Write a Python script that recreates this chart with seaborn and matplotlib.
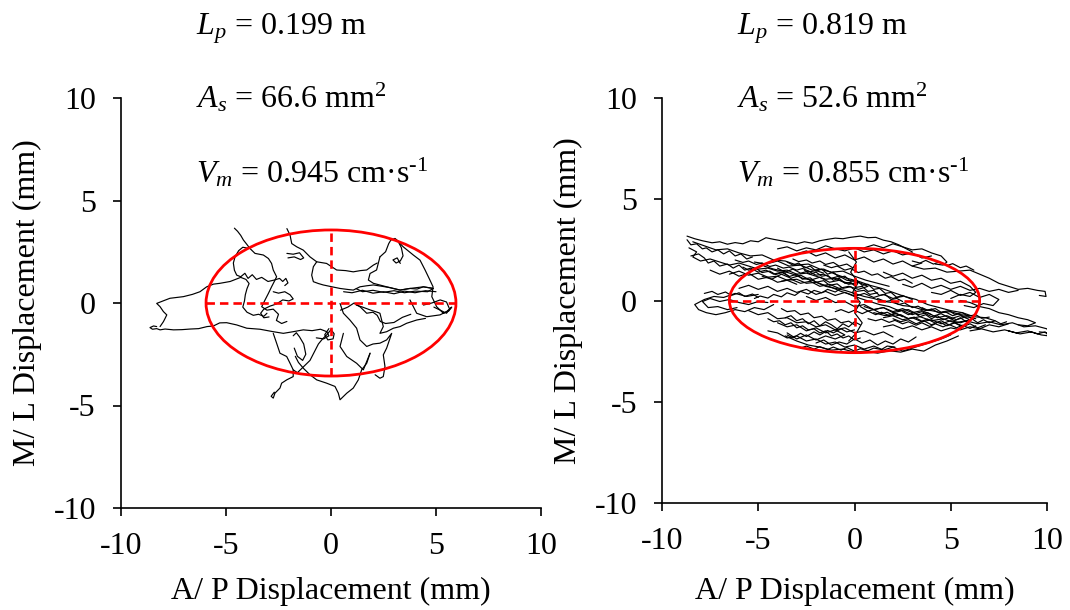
import numpy as np
import pandas as pd
import matplotlib
matplotlib.use("Agg")
import matplotlib.pyplot as plt
from matplotlib.patches import Ellipse
import seaborn as sns

# ---- Sway summary values ----
path_length = [0.199, 0.819]          # m
sway_area = [66.6, 52.6]              # mm^2 (95 % ellipse)
mean_velocity = [0.945, 0.855]        # cm/s
ellipse_ap_half = [5.95, 6.5]         # mm, semi-axis along A/P

# ---- COP trajectory, condition 1 (mm), one list per traced stroke ----
left_ap = [
    [-8.3, -8.45, -8.62, -8.5, -8.3, -8.14, -7.9, -7.5, -7.1, -6.7, -6.3, -5.9, -5.6, -5.3, -4.97, -4.49, -4.01,
     -3.38, -2.75, -2.27, -1.8, -1.32, -0.9, -0.5, -0.2, -0.1, -0.35, -0.7],
    [-8.14, -7.98, -7.9, -7.82, -7.98, -8.14, -8.3, -8.0, -7.67, -7.03, -6.6, -6.24, -5.92, -5.6, -5.29, -4.8,
     -4.3, -4.05, -3.9, -4.0, -4.08, -4.12, -4.2, -4.0, -3.7, -3.45, -3.2, -3.05],
    [-4.6, -4.45, -4.3, -4.17, -4.0, -3.86, -3.62, -3.22, -2.98, -2.83, -2.75, -2.59, -2.7, -2.83, -2.98, -3.14,
     -3.3, -3.05, -2.75, -2.5, -2.6, -2.35, -2.1],
    [-3.9, -4.2, -4.4, -4.57, -4.65, -4.6, -4.49, -4.3, -4.1, -3.95, -3.75, -3.55, -3.3, -3.0, -2.7, -2.45, -2.3,
     -2.15, -2.05, -2.2],
    [-2.75, -2.5, -2.2, -1.95, -1.8, -2.0, -2.3, -2.6, -2.9, -3.2, -3.35, -3.2, -2.95],
    [-2.1, -1.95, -1.87, -1.63, -1.32, -1.0, -0.68, -0.21, 0.27, 0.7, 1.06, 1.4, 1.7, 2.02, 2.2],
    [-2.1, -1.8, -1.5, -1.3, -1.45, -1.75, -2.05],
    [-0.68, -0.84, -0.92, -0.84, -0.6, -0.37, 0.0, 0.43, 0.8, 1.06, 1.38, 1.7, 2.02, 2.4, 2.8, 3.29, 3.76, 4.1,
     4.4, 4.87],
    [2.33, 2.6, 2.75, 2.85, 3.05, 3.2, 3.35, 3.43, 3.3, 3.1, 2.95, 3.15, 3.3],
    [3.1, 3.44, 3.92, 4.24, 4.48, 4.71, 4.86, 4.8, 5.03, 5.35, 5.6, 5.75, 5.5, 5.19, 4.56, 4.08, 3.76],
    [2.33, 2.17, 1.86, 1.78, 2.02, 2.65, 3.29, 3.76, 4.4, 4.87, 4.6, 4.0, 3.5, 3.0, 2.5, 2.0, 1.5, 1.2],
    [1.2, 1.5, 1.9, 2.2, 2.33, 2.49, 2.33, 2.65, 2.97, 3.29, 3.6, 4.08, 4.5],
    [0.43, 0.59, 0.9, 1.22, 1.38, 1.7, 2.0, 2.33, 2.65, 2.89, 2.65, 2.49, 2.57, 2.49, 2.33, 2.1],
    [1.86, 1.7, 1.46, 1.3, 1.06, 0.75, 0.43, 0.35, 0.19, -0.21, -0.68, -1.0, -1.3, -1.55, -1.7],
    [0.59, 0.43, 0.75, 1.22, 1.54, 1.86],
    [-2.75, -2.59, -2.43, -2.11, -1.95, -1.8, -1.8, -2.11, -2.35, -2.43, -2.67, -2.75, -2.85, -2.7],
    [-1.8, -1.6, -1.3, -1.0, -0.8, -0.6, -0.4, -0.2, 0.0, 0.15, 0.1, -0.15, -0.3, -0.1],
    [-1.8, -1.65, -1.5, -1.3, -1.2, -1.35, -1.6, -1.75],
    [0.45, 0.8, 1.1, 1.4, 1.7, 2.0, 2.2, 2.35, 2.6, 3.0, 3.4, 3.8],
    [4.4, 4.8, 5.2, 5.5, 5.65, 5.5, 5.2, 4.9],
    [0.6, 1.0, 1.5, 2.0, 2.5, 3.0, 3.5, 4.0, 4.5, 5.0],
]
left_ml = [
    [-1.15, -1.12, -1.2, -1.28, -1.25, -1.31, -1.27, -1.31, -1.3, -1.27, -1.25, -1.15, -1.12, -0.97, -0.96, -1.07,
     -1.23, -1.28, -1.4, -1.48, -1.4, -1.31, -1.35, -1.28, -1.4, -1.6, -1.75, -1.7],
    [-1.15, -0.91, -0.75, -0.58, -0.42, -0.18, -0.02, 0.1, 0.23, 0.31, 0.42, 0.55, 0.79, 0.92, 0.96, 1.05, 1.25,
     1.15, 0.95, 0.7, 0.4, 0.1, -0.2, -0.45, -0.6, -0.55, -0.65, -0.5],
    [3.65, 3.5, 3.3, 3.07, 2.85, 2.66, 2.42, 2.34, 2.17, 1.93, 1.61, 1.28, 1.05, 0.79, 0.47, 0.15, -0.18, -0.35,
     -0.3, -0.55, -0.85, -1.0, -0.9],
    [2.66, 2.72, 2.55, 2.25, 1.95, 1.6, 1.36, 1.28, 1.45, 1.2, 1.38, 1.15, 1.25, 1.05, 1.12, 1.2, 1.05, 1.2, 0.98,
     0.85],
    [0.55, 0.48, 0.55, 0.4, 0.2, 0.1, 0.15, -0.05, -0.15, -0.3, -0.5, -0.72, -0.68],
    [3.63, 3.31, 2.9, 2.74, 2.58, 2.25, 2.01, 1.93, 1.61, 1.58, 1.52, 1.58, 1.61, 1.85, 1.95],
    [2.42, 2.38, 2.45, 2.2, 2.12, 2.25, 2.2],
    [2.01, 1.77, 1.36, 1.04, 0.95, 0.88, 0.8, 0.71, 0.66, 0.63, 0.79, 0.84, 0.88, 0.82, 0.75, 0.63, 0.71, 0.68,
     0.79, 0.71],
    [2.25, 2.5, 2.9, 3.07, 3.15, 3.0, 2.7, 2.3, 2.05, 1.95, 2.1, 2.2, 1.93],
    [3.1, 2.74, 2.34, 2.09, 1.61, 1.12, 0.79, 0.31, -0.18, -0.5, -0.4, -0.2, -0.42, -0.58, -0.67, -0.5, 0.15],
    [2.25, 1.61, 1.44, 1.12, 0.96, 0.79, 0.63, 0.71, 0.79, 0.71, 0.55, 0.58, 0.5, 0.6, 0.52, 0.62, 0.55, 0.7],
    [-0.1, -0.2, -0.35, -0.45, -0.5, -1.15, -1.48, -1.4, -1.23, -1.15, -0.99, -0.83, -0.75],
    [-0.02, -0.5, -0.83, -1.23, -1.8, -2.12, -2.0, -1.96, -1.8, -1.48, -2.2, -2.53, -3.1, -3.59, -3.67, -3.5],
    [-2.45, -2.94, -3.26, -3.75, -4.15, -4.4, -4.72, -4.4, -4.07, -3.91, -3.75, -3.5, -3.2, -2.9, -2.6],
    [-1.48, -2.12, -2.61, -2.94, -3.26, -2.45],
    [-1.48, -1.96, -2.45, -2.61, -2.94, -3.26, -3.59, -3.75, -3.91, -4.15, -4.4, -4.64, -4.55, -4.35],
    [-3.26, -3.4, -3.1, -2.8, -2.4, -2.0, -1.75, -1.55, -1.3, -1.5, -1.75, -1.8, -1.55, -1.25],
    [-1.6, -1.45, -1.65, -2.0, -2.5, -2.8, -2.6, -2.2],
    [-0.35, -0.2, 0.0, -0.2, -0.5, -0.45, -0.6, -0.9, -1.0, -0.95, -0.7, -0.55],
    [-0.1, 0.0, 0.15, 0.05, -0.3, -0.5, -0.35, -0.2],
    [0.55, 0.5, 0.62, 0.48, 0.55, 0.45, 0.58, 0.5, 0.6, 0.55],
]

# ---- COP trajectory, condition 2 (mm) ----
right_ap = [
    [-8.7, -8.3, -7.9, -7.4, -7.0, -6.6, -6.2, -5.8, -5.4, -5.0, -4.6, -4.2, -3.8, -3.4, -3.0, -2.6, -2.2, -1.8,
     -1.4, -1.0, -0.6, -0.2, 0.3, 0.7, 1.1, 1.5, 1.9, 2.3, 2.7, 3.0],
    [-8.6, -8.2, -8.4, -8.0, -7.5, -7.0, -6.5, -6.0, -5.5, -5.0, -4.5, -4.0, -3.5, -3.0, -2.5, -2.0, -1.5, -1.0,
     -0.5, 0.0],
    [-8.4, -7.8, -7.2, -6.6, -6.0, -5.4, -4.8, -4.2, -3.6, -3.0, -2.4, -1.8, -1.2, -0.6, 0.0, 0.6, 1.2, 1.8],
    [-6.5, -6.0, -5.5, -5.0, -4.5, -4.0, -3.5, -3.0, -2.5, -2.0, -1.5, -1.0, -0.5, 0.0, 0.5, 1.0, 1.5, 2.0, 2.5,
     3.0, 3.5, 4.0, 4.5, 5.0, 5.5, 6.0],
    [6.3, 5.8, 5.3, 4.8, 4.3, 3.8, 3.3, 2.8, 2.3, 1.8, 1.3, 0.8, 0.3, -0.2, -0.7, -1.2, -1.7, -2.2, -2.7, -3.2,
     -3.7, -4.2, -4.7],
    [-5.2, -4.6, -4.0, -3.4, -2.8, -2.2, -1.6, -1.0, -0.4, 0.2, 0.8, 1.4, 2.0, 2.6, 3.2, 3.8, 4.4, 5.0, 5.6, 6.2,
     6.8, 7.3],
    [1.0, 1.6, 2.2, 2.8, 3.4, 4.0, 4.6, 5.2, 5.8, 6.4, 7.0, 7.6, 8.2, 8.8, 9.4, 10.0, 10.1, 9.6],
    [3.0, 3.6, 4.2, 4.8, 5.4, 6.0, 6.5, 7.0, 7.5, 8.0, 8.5, 9.0, 9.5, 9.9, 9.95, 9.6],
    [0.5, 1.0, 1.5, 2.0, 2.5, 3.0, 3.5, 4.0, 4.5, 4.8, 4.6, 4.2],
    [-5.5, -5.0, -4.5, -4.0, -3.5, -3.0, -2.5, -2.0, -1.5, -1.0, -0.5, 0.0, 0.5, 1.0, 1.5, 2.0],
    [-4.5, -4.0, -3.5, -3.0, -2.5, -2.0, -1.5, -1.0, -0.5, 0.0, 0.5, 1.0, 1.5, 2.0, 2.5, 3.0, 3.5, 4.0, 4.5, 5.0],
    [-3.6, -3.0, -2.4, -1.8, -1.2, -0.6, 0.0, 0.6, 1.2, 1.8, 2.4, 3.0, 3.6, 4.2, 4.8, 5.4],
    [-5.0, -5.6, -6.2, -6.8, -7.3, -7.8, -8.3, -8.1, -7.7, -7.2, -6.7, -6.2, -5.7, -5.2, -4.7, -4.2],
    [-4.8, -4.3, -3.8, -3.3, -2.8, -2.3, -1.8, -1.3, -0.8, -0.3, 0.2, 0.7, 0.2, -0.3, -0.8, -1.3, -1.8, -2.3,
     -2.8, -3.3, -3.8],
    [0.5, 1.0, 1.5, 2.0, 2.5, 3.0, 3.5, 4.0, 4.5, 5.0, 5.5, 6.0, 5.5, 5.0, 4.5, 4.0, 3.5, 3.0, 2.5, 2.0, 1.5],
    [1.5, 2.0, 2.5, 3.0, 3.5, 4.0, 4.5, 5.0, 5.5, 6.0, 6.5, 7.0, 7.5, 8.0],
    [-0.3, 0.1, -0.2, 0.2, -0.1, 0.3, 0.0, 0.4, 0.1, -0.3],
    [-2.5, -2.0, -1.5, -1.0, -0.5, 0.0, 0.5, 1.0, 1.5, 2.0, 2.5, 3.0, 3.5, 4.0],
    [-6.0, -5.5, -5.0, -4.5, -4.0, -3.5, -3.0, -2.5, -2.0, -1.5, -1.0, -0.5, 0.0, 0.5, 1.0, 1.5, 2.0, 2.5, 3.0],
    [1.5, 2.0, 2.5, 3.0, 3.5, 4.0, 4.5, 5.0, 5.5, 6.0, 6.3, 6.0, 5.5, 5.0],
    [-4.0, -3.5, -3.0, -2.5, -2.0, -1.5, -1.0, -0.5, -1.0, -1.5, -2.0, -2.5, -3.0, -3.5],
    [-7.5, -7.0, -6.5, -6.0, -5.5, -5.0, -4.5, -4.0, -3.5, -3.0],
    [-3.0, -2.5, -2.0, -1.5, -1.0, -0.5, 0.0, 0.5, 1.0, 1.5, 2.0, 2.5, 3.0, 3.5],
    [4.0, 4.5, 5.0, 5.5, 6.0, 6.5, 7.0, 7.5, 7.2, 6.7, 6.2, 5.7],
    [-4.0, -3.6, -3.2, -2.8, -2.4, -2.0, -1.6, -1.2, -0.8, -0.4, 0.0],
    [2.0, 2.4, 2.8, 3.2, 3.6, 4.0, 4.4, 4.8, 5.2, 5.6, 6.0, 6.4, 6.8],
    [-8.7, -8.5, -8.2, -7.9, -7.7, -7.4, -7.1, -6.8, -6.5, -6.2, -5.9, -5.6, -5.3],
    [-8.5, -8.1, -7.8, -7.6, -7.3, -7.0, -6.6, -6.3, -6.0, -5.7, -5.4, -5.0, -4.6, -4.2, -3.8, -3.4],
    [-3.5, -3.2, -2.9, -2.6, -2.3, -2.0, -1.7, -1.4, -1.1, -0.8, -0.5, -0.2, 0.1, 0.4, 0.7, 1.0, 1.3, 1.6, 1.9,
     2.2, 2.5],
    [2.5, 2.2, 1.9, 1.6, 1.3, 1.0, 0.7, 0.4, 0.1, -0.2, -0.5, -0.8, -1.1, -1.4, -1.7, -2.0, -2.3, -2.6],
    [2.5, 2.8, 3.1, 3.4, 3.7, 4.0, 4.3, 4.6, 4.9, 5.2, 5.5, 5.8, 6.1, 6.4, 6.7, 7.0, 7.3, 7.6, 7.9],
    [-4.5, -4.2, -3.9, -3.6, -3.3, -3.0, -2.7, -2.4, -2.1, -1.8, -1.5, -1.2, -0.9, -0.6, -0.3, 0.0, 0.3],
    [0.3, 0.0, -0.3, -0.6, -0.9, -1.2, -1.5, -1.8, -2.1, -2.4, -2.7, -3.0, -3.3, -3.6],
    [-2.0, -1.6, -1.2, -0.8, -0.4, 0.0, 0.4, 0.8, 1.2, 1.6, 2.0, 2.4, 2.8, 3.2],
    [-4.5, -5.0, -5.5, -6.0, -6.5, -7.0, -7.5, -7.9, -7.6, -7.1, -6.6, -6.1],
    [2.5, 3.0, 3.5, 4.0, 4.5, 5.0, 5.5, 6.0, 6.5, 7.0, 7.5, 8.0, 8.5],
    [-4.0, -3.5, -3.0, -2.5, -2.0, -1.5, -1.0, -0.5, 0.0, 0.5, 1.0, 1.5, 2.0, 2.5, 3.0, 3.5, 4.0],
    [6.0, 6.6, 7.2, 7.8, 8.4, 9.0, 9.5, 9.9, 10.1, 9.7, 9.2, 8.6, 8.0],
    [5.5, 6.0, 6.5, 7.0, 7.5, 8.0, 8.5, 9.0, 9.4, 9.0, 8.5],
    [-5.8, -5.5, -5.1, -4.8, -4.4, -4.1, -3.7, -3.4, -3.0, -2.7, -2.3, -2.0, -1.6, -1.3, -0.9, -0.6, -0.2, 0.1,
     0.5, 0.8, 1.2],
    [1.2, 1.6, 1.9, 2.3, 2.6, 3.0, 3.3, 3.7, 4.0, 4.4, 4.7, 5.1, 5.4, 5.8],
    [5.6, 5.2, 4.9, 4.5, 4.2, 3.8, 3.5, 3.1, 2.8, 2.4, 2.1, 1.7, 1.4, 1.0, 0.7, 0.3],
    [-3.8, -3.5, -3.1, -2.8, -2.4, -2.1, -1.7, -1.4, -1.0, -0.7, -0.3, 0.0],
    [0.0, -0.4, -0.7, -1.1, -1.4, -1.8, -2.1, -2.5, -2.8, -3.2, -3.5],
    [-2.8, -2.5, -2.1, -1.8, -1.4, -1.1, -0.7, -0.4, 0.0, 0.3, 0.7, 1.0, 1.4, 1.7, 2.1],
    [-6.2, -5.8, -5.5, -5.1, -4.8, -4.4, -4.1, -3.7, -3.4, -3.0, -2.7, -2.3, -2.0, -1.6],
    [-1.6, -1.2, -0.9, -0.5, -0.2, 0.2, 0.5, 0.9, 1.2, 1.6, 1.9, 2.3, 2.6, 3.0],
    [3.0, 3.4, 3.7, 4.1, 4.4, 4.8, 5.1, 5.5, 5.8, 6.2],
    [-5.2, -4.9, -4.5, -4.2, -3.8, -3.5, -3.1, -2.8, -2.4, -2.1, -1.7, -1.4, -1.0, -0.7],
    [0.7, 1.1, 1.4, 1.8, 2.1, 2.5, 2.8, 3.2, 3.5, 3.9, 4.2, 4.6, 4.9, 5.3, 5.6, 6.0, 6.3],
    [3.5, 3.8, 4.2, 4.5, 4.9, 5.2, 5.6, 5.9, 6.3, 6.6, 7.0],
    [-7.8, -7.4, -7.1, -6.7, -6.4, -6.0, -5.7, -5.3, -5.0],
    [-1.0, -0.7, -0.3, 0.0, 0.4, 0.7, 1.1, 1.4, 1.8, 2.1, 2.5],
    [-3.2, -2.9, -2.5, -2.2, -1.8, -1.5, -1.1, -0.8, -0.4, -0.1],
]
right_ml = [
    [3.18, 3.05, 2.95, 2.85, 2.9, 2.78, 2.86, 2.8, 2.95, 2.9, 3.1, 3.02, 2.95, 2.88, 2.8, 2.9, 2.83, 2.95, 3.02,
     3.08, 3.05, 3.12, 3.18, 3.1, 3.12, 2.98, 2.9, 2.75, 2.55, 2.4],
    [2.6, 2.4, 2.15, 1.95, 2.05, 1.9, 1.75, 1.85, 1.7, 1.55, 1.6, 1.45, 1.5, 1.3, 1.35, 1.2, 1.05, 1.1, 0.9, 0.8],
    [2.9, 2.7, 2.5, 2.55, 2.35, 2.2, 2.25, 2.0, 1.95, 1.75, 1.8, 1.55, 1.4, 1.45, 1.2, 1.0, 0.85, 0.7],
    [1.3, 1.45, 1.25, 1.35, 1.15, 1.2, 1.0, 1.05, 0.85, 0.9, 0.7, 0.6, 0.5, 0.35, 0.2, 0.1, -0.05, -0.1, -0.25,
     -0.3, -0.45, -0.5, -0.6, -0.55, -0.7, -0.75],
    [-0.9, -0.8, -0.95, -0.75, -0.85, -0.6, -0.7, -0.45, -0.5, -0.3, -0.2, -0.05, 0.1, 0.3, 0.45, 0.65, 0.8, 1.0,
     1.1, 1.3, 1.45, 1.55, 1.7],
    [1.9, 1.8, 1.95, 1.7, 1.75, 1.5, 1.55, 1.3, 1.1, 0.95, 0.75, 0.6, 0.4, 0.2, 0.05, -0.2, -0.35, -0.5, -0.6,
     -0.8, -0.85, -1.0],
    [-0.6, -0.75, -0.65, -0.9, -0.8, -1.0, -0.9, -1.1, -1.0, -1.15, -1.05, -1.2, -1.1, -1.3, -1.25, -1.4, -1.6,
     -1.55],
    [1.7, 1.55, 1.6, 1.4, 1.45, 1.5, 1.3, 1.1, 0.85, 0.7, 0.55, 0.6, 0.5, 0.45, 0.2, 0.25],
    [2.6, 2.75, 2.6, 2.8, 2.65, 2.5, 2.55, 2.35, 2.2, 1.9, 1.75, 1.8],
    [-0.5, -0.7, -0.6, -0.9, -0.85, -1.1, -1.05, -1.3, -1.2, -1.45, -1.35, -1.6, -1.5, -1.7, -1.55, -1.8],
    [-1.5, -1.6, -1.85, -1.75, -2.0, -1.9, -2.15, -2.05, -2.3, -2.2, -2.4, -2.25, -2.45, -2.3, -2.5, -2.35, -2.2,
     -2.05, -1.9, -1.7],
    [-1.75, -2.0, -2.2, -2.3, -2.45, -2.4, -2.55, -2.5, -2.6, -2.48, -2.55, -2.4, -2.5, -2.2, -2.0, -1.75],
    [0.3, 0.2, 0.35, 0.15, 0.2, 0.05, -0.2, -0.45, -0.6, -0.7, -0.6, -0.45, -0.55, -0.35, -0.45, -0.2],
    [1.2, 1.05, 1.3, 1.1, 1.25, 1.0, 1.15, 0.9, 1.0, 0.8, 0.9, 0.7, 0.55, 0.7, 0.6, 0.8, 0.7, 0.95, 0.85, 1.05,
     0.95],
    [-0.3, -0.45, -0.35, -0.6, -0.5, -0.7, -0.55, -0.8, -0.65, -0.9, -0.75, -0.95, -1.1, -1.0, -1.15, -0.95,
     -1.05, -0.85, -0.95, -0.75, -0.85],
    [-1.3, -1.2, -1.4, -1.25, -1.45, -1.3, -1.5, -1.35, -1.45, -1.3, -1.4, -1.2, -1.3, -1.15],
    [2.4, 1.9, 1.4, 0.9, 0.4, -0.1, -0.6, -1.1, -1.6, -2.0],
    [0.2, 0.0, 0.15, -0.1, -0.05, -0.3, -0.2, -0.45, -0.35, -0.55, -0.4, -0.6, -0.5, -0.7],
    [0.6, 0.75, 0.55, 0.7, 0.45, 0.6, 0.4, 0.55, 0.3, 0.45, 0.25, 0.4, 0.2, 0.35, 0.15, 0.3, 0.1, 0.25, 0.05],
    [1.4, 1.2, 1.35, 1.1, 1.25, 1.0, 1.1, 0.85, 0.95, 0.7, 0.4, 0.2, 0.3, 0.1],
    [-1.1, -1.3, -1.2, -1.5, -1.35, -1.6, -1.45, -1.7, -1.9, -1.75, -1.95, -1.7, -1.9, -1.6],
    [1.5, 1.3, 1.45, 1.2, 1.35, 1.05, 1.15, 0.9, 1.0, 0.8],
    [2.3, 2.45, 2.2, 2.35, 2.1, 2.25, 2.0, 2.15, 1.9, 2.05, 1.8, 1.95, 1.7, 1.85],
    [0.4, 0.3, 0.5, 0.25, 0.4, 0.15, 0.3, 0.05, -0.25, -0.15, -0.35, -0.25],
    [1.6, 1.4, 1.55, 1.35, 1.45, 1.25, 1.3, 1.1, 1.2, 1.0, 0.95],
    [-0.9, -1.05, -0.95, -1.15, -1.0, -1.2, -1.05, -1.25, -1.1, -1.3, -1.15, -1.35, -1.2],
    [3.0, 2.75, 2.8, 2.55, 2.6, 2.4, 2.5, 2.3, 2.45, 2.2, 2.3, 2.05, 2.15],
    [2.2, 2.3, 2.1, 1.85, 1.95, 1.7, 1.8, 1.6, 1.75, 1.5, 1.6, 1.4, 1.5, 1.3, 1.4, 1.2],
    [1.9, 1.75, 1.85, 1.6, 1.7, 1.45, 1.55, 1.3, 1.4, 1.15, 1.2, 0.95, 1.0, 0.75, 0.8, 0.55, 0.6, 0.35, 0.4, 0.15,
     0.2],
    [-0.05, 0.1, 0.05, 0.3, 0.25, 0.5, 0.45, 0.7, 0.65, 0.9, 0.85, 1.1, 1.0, 1.25, 1.2, 1.4, 1.3, 1.5],
    [-0.55, -0.7, -0.6, -0.8, -0.7, -0.9, -0.75, -0.95, -0.85, -1.0, -0.85, -1.05, -0.9, -1.1, -0.95, -1.1, -1.0,
     -1.15, -1.05],
    [-0.9, -1.05, -1.0, -1.2, -1.1, -1.35, -1.25, -1.45, -1.4, -1.6, -1.5, -1.75, -1.65, -1.85, -1.75, -1.95,
     -1.85],
    [-1.2, -1.05, -1.3, -1.15, -1.4, -1.2, -1.05, -1.25, -1.0, -1.15, -0.9, -1.0, -0.75, -0.85],
    [-2.1, -1.95, -2.2, -2.05, -2.15, -1.9, -2.1, -1.95, -2.2, -2.0, -2.15, -1.9, -2.05, -1.8],
    [-0.1, -0.05, -0.2, -0.1, 0.05, -0.05, 0.1, -0.05, -0.35, -0.3, -0.45, -0.35],
    [0.8, 0.65, 0.85, 0.6, 0.75, 0.55, 0.7, 0.5, 0.6, 0.45, 0.55, 0.4, 0.5],
    [2.55, 2.65, 2.45, 2.6, 2.5, 2.7, 2.55, 2.45, 2.6, 2.4, 2.5, 2.3, 2.45, 2.25, 2.35, 2.1, 2.2],
    [-1.5, -1.4, -1.55, -1.45, -1.6, -1.5, -1.65, -1.55, -1.75, -1.7, -1.55, -1.65, -1.5],
    [0.0, -0.1, -0.3, -0.4, -0.6, -0.7, -0.85, -0.95, -1.1, -1.25, -1.2],
    [1.65, 1.5, 1.58, 1.38, 1.45, 1.28, 1.4, 1.18, 1.3, 1.05, 1.12, 0.9, 0.98, 0.75, 0.82, 0.6, 0.68, 0.45, 0.5,
     0.3, 0.38],
    [0.1, -0.05, 0.0, -0.2, -0.12, -0.35, -0.28, -0.5, -0.42, -0.62, -0.55, -0.75, -0.66, -0.85],
    [-1.25, -1.1, -1.2, -1.0, -1.12, -0.92, -1.02, -0.82, -0.9, -0.7, -0.78, -0.58, -0.65, -0.45, -0.52, -0.3],
    [-0.4, -0.55, -0.5, -0.7, -0.62, -0.85, -0.78, -0.98, -0.9, -1.1, -1.02, -1.2],
    [-1.45, -1.55, -1.4, -1.6, -1.48, -1.7, -1.55, -1.78, -1.62, -1.85, -1.7],
    [-2.35, -2.25, -2.4, -2.28, -2.42, -2.3, -2.45, -2.32, -2.5, -2.38, -2.48, -2.35, -2.42, -2.25, -2.3],
    [2.0, 1.88, 1.95, 1.78, 1.85, 1.68, 1.75, 1.6, 1.65, 1.5, 1.58, 1.42, 1.48, 1.35],
    [1.75, 1.62, 1.7, 1.5, 1.58, 1.38, 1.45, 1.25, 1.32, 1.1, 1.18, 0.98, 1.05, 0.85],
    [1.95, 1.85, 1.98, 1.8, 1.9, 1.72, 1.82, 1.62, 1.7, 1.5],
    [0.1, 0.22, 0.12, 0.3, 0.18, 0.38, 0.25, 0.45, 0.32, 0.5, 0.38, 0.55, 0.42, 0.6],
    [-0.9, -1.0, -0.92, -1.08, -0.98, -1.15, -1.05, -1.22, -1.1, -1.28, -1.15, -1.3, -1.18, -1.35, -1.22, -1.38,
     -1.25],
    [-0.35, -0.48, -0.4, -0.58, -0.5, -0.68, -0.6, -0.78, -0.7, -0.88, -0.82],
    [0.35, 0.45, 0.3, 0.42, 0.25, 0.38, 0.2, 0.32, 0.15],
    [-0.55, -0.45, -0.6, -0.48, -0.65, -0.52, -0.7, -0.58, -0.75, -0.62, -0.8],
    [2.05, 1.92, 2.0, 1.85, 1.95, 1.78, 1.88, 1.7, 1.8, 1.62],
]

ticks = [-10, -5, 0, 5, 10]
x_label = "A/ P Displacement (mm)"
y_label = "M/ L Displacement (mm)"


def strokes_frame(ap, ml):
    rows = []
    for k, (xs, ys) in enumerate(zip(ap, ml)):
        for x, y in zip(xs, ys):
            rows.append((k, x, y))
    return pd.DataFrame(rows, columns=["stroke", "ap", "ml"])


sns.set_style("ticks")
plt.rcParams["font.family"] = ["Liberation Serif", "DejaVu Serif"]
plt.rcParams["mathtext.fontset"] = "custom"
plt.rcParams["mathtext.rm"] = "Liberation Serif"
plt.rcParams["mathtext.it"] = "Liberation Serif:italic"
plt.rcParams["text.color"] = "black"
plt.rcParams["axes.labelcolor"] = "black"

FS = 23

fig = plt.figure(figsize=(10.7, 6.1), dpi=100)
ax_boxes = [
    [121 / 1070, 102 / 610, 420 / 1070, 410 / 610],
    [662 / 1070, 107 / 610, 385 / 1070, 405 / 610],
]
x_labelpad = [12, 15]
y_labelpad = [8, 8]
text_x = [196 / 1070, 737 / 1070]

for i, (ap, ml) in enumerate([(left_ap, left_ml), (right_ap, right_ml)]):
    ax = fig.add_axes(ax_boxes[i])
    df = strokes_frame(ap, ml)
    sns.lineplot(data=df, x="ap", y="ml", units="stroke", estimator=None, sort=False,
                 color="black", lw=0.85, ax=ax, legend=False)

    a = ellipse_ap_half[i]
    b = sway_area[i] / (np.pi * a)
    ax.add_patch(Ellipse((0, 0), 2 * a, 2 * b, fill=False, ec="#ff0000", lw=2.0, zorder=4))
    ax.plot([-a, a], [0, 0], color="#ff0000", lw=1.9, dashes=(3.2, 1.9), zorder=4)
    ax.plot([0, 0], [-b, b], color="#ff0000", lw=1.9, dashes=(3.2, 1.9), zorder=4)

    ax.set_xlim(-10, 10)
    ax.set_ylim(-10, 10)
    ax.set_xticks(ticks)
    ax.set_yticks(ticks)
    ax.set_xticklabels([str(t) for t in ticks])
    ax.set_yticklabels([str(t) for t in ticks])
    sns.despine(ax=ax)
    for s in ("left", "bottom"):
        ax.spines[s].set_linewidth(1.2)
        ax.spines[s].set_color("black")
    ax.tick_params(direction="out", length=6, width=1.2, labelsize=FS, colors="black")
    ax.tick_params(axis="y", pad=12)
    ax.tick_params(axis="x", pad=11)
    ax.set_xlabel(x_label, fontsize=FS, labelpad=x_labelpad[i])
    ax.set_ylabel(y_label, fontsize=FS, labelpad=y_labelpad[i])

    fig.text(text_x[i], 1 - 35 / 610, rf"$L_p$ = {path_length[i]:.3f} m", fontsize=FS, va="baseline")
    fig.text(text_x[i], 1 - 108 / 610, rf"$A_s$ = {sway_area[i]:.1f} mm$^2$", fontsize=FS, va="baseline")
    fig.text(text_x[i], 1 - 182 / 610, rf"$V_m$ = {mean_velocity[i]:.3f} cm·s$^{{\text{{-1}}}}$",
             fontsize=FS, va="baseline")

fig.savefig("out.png", dpi=100, facecolor="white")
